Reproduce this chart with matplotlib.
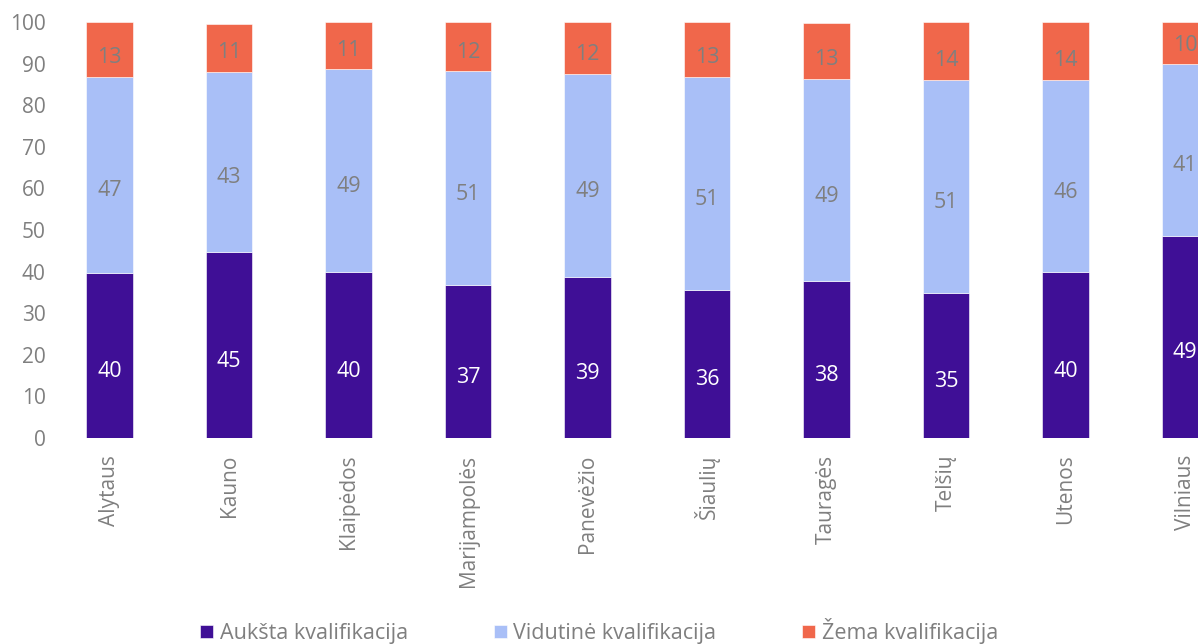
import numpy as np
import matplotlib.pyplot as plt

plt.rcParams['font.family'] = ['Open Sans', 'DejaVu Sans']

# Regions and shares of workers (%)
regions = ['Alytaus', 'Kauno', 'Klaipėdos', 'Marijampolės', 'Panevėžio',
           'Šiaulių', 'Tauragės', 'Telšių', 'Utenos', 'Vilniaus']
high = [39.7, 44.7, 39.9, 36.8, 38.6, 35.6, 37.7, 34.8, 39.8, 48.6]
medium = [47.1, 43.4, 48.8, 51.4, 48.9, 51.2, 48.6, 51.3, 46.3, 41.3]
low = [13.2, 11.4, 11.3, 11.8, 12.4, 13.2, 13.4, 13.9, 13.9, 10.1]
series_names = ['Aukšta kvalifikacija', 'Vidutinė kvalifikacija', 'Žema kvalifikacija']

c_high = '#3F0F96'
c_med = '#A9BFF7'
c_low = '#F0674B'
grey = '#7F7F7F'
fs = 15

fig = plt.figure(figsize=(11.98, 6.44), dpi=100)
# axes run past the right edge, as in the reference (last bar is cut off)
ax = fig.add_axes([49.75 / 1198, 206 / 644, 1195 / 1198, 416 / 644])

x = np.arange(len(regions))
w = 0.39
b1 = ax.bar(x, high, w, color=c_high, edgecolor='white', linewidth=0.4, label=series_names[0])
b2 = ax.bar(x, medium, w, bottom=high, color=c_med, edgecolor='white', linewidth=0.4, label=series_names[1])
bottom2 = np.array(high) + np.array(medium)
b3 = ax.bar(x, low, w, bottom=bottom2, color=c_low, edgecolor='white', linewidth=0.4, label=series_names[2])

# value labels, a bit below the segment centre like the original
px_per_unit = 416 / 100
for bars, col in [(b1, 'white'), (b2, grey), (b3, grey)]:
    for r in bars:
        h = r.get_height()
        seg_px = h * px_per_unit
        off = min(16, max(0, (seg_px - 38) / 2))
        ax.annotate('%d' % round(h), (r.get_x() + r.get_width() / 2, r.get_y() + h / 2),
                    xytext=(0, -off * 0.72), textcoords='offset points',
                    ha='center', va='center', color=col, fontsize=15.5,
                    annotation_clip=False)

ax.set_xlim(-0.5, len(regions) - 0.5)
ax.set_ylim(0, 100)
ax.set_yticks(range(0, 101, 10))
ax.set_xticks(x)
ax.set_xticklabels(regions, rotation=90)
ax.tick_params(axis='both', length=0, colors=grey, labelsize=fs)
ax.tick_params(axis='y', pad=3)
ax.tick_params(axis='x', pad=12)
for s in ax.spines.values():
    s.set_visible(False)

fig.legend(handles=[b1, b2, b3], loc='lower center', bbox_to_anchor=(0.5, -0.03),
           ncol=3, frameon=False, fontsize=15.5, labelcolor=grey,
           handlelength=0.6, handleheight=0.6, handletextpad=0.3, columnspacing=4.0)

fig.savefig('out.png', dpi=100)
